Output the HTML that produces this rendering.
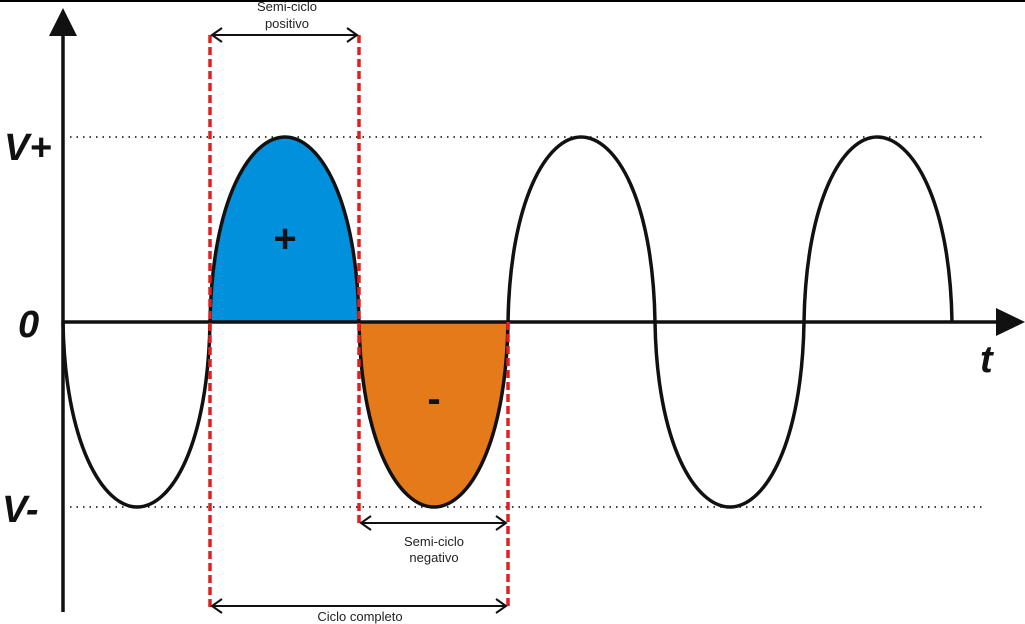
<!DOCTYPE html>
<html><head><style>
html,body{margin:0;padding:0;background:#fff;width:1025px;height:624px;overflow:hidden}
svg{display:block}
text{font-family:"Liberation Sans",Arial,sans-serif}
</style></head><body>
<svg width="1025" height="624" viewBox="0 0 1025 624">
<rect x="0" y="0" width="1025" height="2" fill="#000"/>
<!-- fills -->
<path d="M210,322 C212,200 250,137 285,137 C320,137 357,200 359,322 Z" fill="#0090dc"/>
<path d="M359,322 C361,444 399,507 434,507 C469,507 506,444 508,322 Z" fill="#e57a1a"/>
<!-- dotted lines -->
<line x1="70" y1="137" x2="985" y2="137" stroke="#000" stroke-width="1.5" stroke-dasharray="1.5,5"/>
<line x1="70" y1="507" x2="985" y2="507" stroke="#000" stroke-width="1.5" stroke-dasharray="1.5,5"/>
<!-- wave -->
<path d="M63,322 C65,444 103,507 137,507 C172,507 208,444 210,322
C212,200 250,137 285,137 C320,137 357,200 359,322
C361,444 399,507 434,507 C469,507 506,444 508,322
C510,200 547,137 581,137 C616,137 653,200 655,322
C657,444 695,507 730,507 C765,507 802,444 804,322
C806,200 843,137 877,137 C912,137 950,200 952,322" fill="none" stroke="#111" stroke-width="3.5"/>
<!-- axes -->
<line x1="63" y1="30" x2="63" y2="612" stroke="#111" stroke-width="3.5"/>
<polygon points="63,8 49,36 77,36" fill="#111"/>
<line x1="63" y1="322" x2="1000" y2="322" stroke="#111" stroke-width="3.5"/>
<polygon points="1025,322 996,308 996,336" fill="#111"/>
<!-- red dashed -->
<g stroke="#e02020" stroke-width="3.5" stroke-dasharray="8,4">
<line x1="210" y1="35" x2="210" y2="608"/>
<line x1="359" y1="35" x2="359" y2="523"/>
<line x1="508" y1="322" x2="508" y2="610"/>
</g>
<!-- dimension arrows -->
<g stroke="#111" stroke-width="2" fill="none">
<line x1="212" y1="35" x2="357" y2="35"/>
<polyline points="222,28 212,35 222,42"/><polyline points="347,28 357,35 347,42"/>
<line x1="361" y1="523" x2="506" y2="523"/>
<polyline points="371,516 361,523 371,530"/><polyline points="496,516 506,523 496,530"/>
<line x1="212" y1="606" x2="506" y2="606"/>
<polyline points="222,599 212,606 222,613"/><polyline points="496,599 506,606 496,613"/>
</g>
<!-- labels -->
<g font-size="13" fill="#222" text-anchor="middle">
<text x="287" y="11">Semi-ciclo</text>
<text x="287" y="28">positivo</text>
<text x="434" y="546">Semi-ciclo</text>
<text x="434" y="562">negativo</text>
<text x="360" y="621">Ciclo completo</text>
</g>
<g font-weight="bold" font-style="italic" fill="#111" font-size="38">
<text x="4" y="160">V+</text>
<text x="18" y="337">0</text>
<text x="2" y="522">V-</text>
<text x="980" y="372">t</text>
</g>
<text x="285" y="252" font-size="40" font-weight="bold" text-anchor="middle" fill="#111">+</text>
<text x="434" y="412" font-size="40" font-weight="bold" text-anchor="middle" fill="#111">-</text>
</svg>
</body></html>
